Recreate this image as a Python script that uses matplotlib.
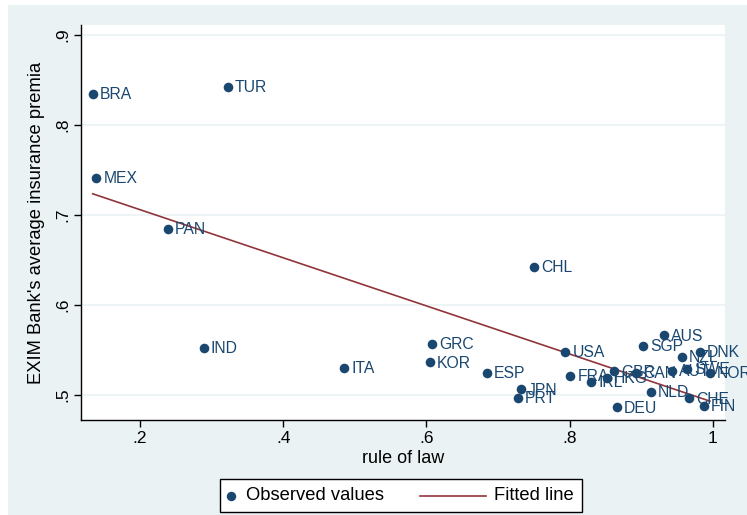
import numpy as np
import matplotlib
matplotlib.use("Agg")
import matplotlib.pyplot as plt
from matplotlib.patches import Rectangle
from matplotlib.lines import Line2D

plt.rcParams['font.family'] = ['Liberation Sans', 'DejaVu Sans']

countries = ["BRA", "TUR", "MEX", "PAN", "IND", "ITA", "GRC", "KOR", "ESP", "JPN",
             "PRT", "CHL", "USA", "FRA", "IRL", "HKG", "GBR", "CAN", "NLD", "DEU",
             "SGP", "AUS", "NZL", "DNK", "AUT", "SWE", "NOR", "CHE", "FIN"]
rule_of_law = [0.134, 0.323, 0.139, 0.239, 0.289, 0.485, 0.608, 0.605, 0.685, 0.732,
               0.728, 0.750, 0.794, 0.801, 0.830, 0.852, 0.862, 0.893, 0.914, 0.866,
               0.903, 0.932, 0.957, 0.982, 0.943, 0.964, 0.996, 0.967, 0.988]
premia = [0.834, 0.842, 0.741, 0.684, 0.552, 0.530, 0.557, 0.536, 0.524, 0.506,
          0.497, 0.642, 0.548, 0.521, 0.514, 0.519, 0.526, 0.524, 0.503, 0.486,
          0.554, 0.566, 0.542, 0.548, 0.527, 0.529, 0.524, 0.496, 0.488]

x_ticks = [0.2, 0.4, 0.6, 0.8, 1.0]
x_tick_labels = [".2", ".4", ".6", ".8", "1"]
y_ticks = [0.5, 0.6, 0.7, 0.8, 0.9]
y_tick_labels = [".5", ".6", ".7", ".8", ".9"]

navy = "#1a476f"
maroon = "#90353b"
panel = "#eaf2f3"

W, H = 747, 515
fig = plt.figure(figsize=(W / 100, H / 100), dpi=100)
fig.patch.set_facecolor("white")

# shaded graph region behind the plot area
bg = fig.add_axes([8 / W, 0, 1 - 8 / W, 1 - 5 / H], zorder=-10)
bg.set_facecolor(panel)
bg.set_xticks([])
bg.set_yticks([])
for s in bg.spines.values():
    s.set_visible(False)

ax = fig.add_axes([81 / W, (H - 420) / H, (725 - 81) / W, (420 - 25) / H])
ax.set_facecolor("white")

x = np.array(rule_of_law)
y = np.array(premia)
slope, intercept = np.polyfit(x, y, 1)
xf = np.array([x.min(), x.max()])

ax.scatter(x, y, s=48, color=navy, zorder=3, linewidths=0)
ax.plot(xf, intercept + slope * xf, color=maroon, lw=1.2, zorder=2)

for c, xi, yi in zip(countries, x, y):
    ax.annotate(c, (xi, yi), xytext=(5, -0.5), textcoords="offset points",
                va="center", ha="left", fontsize=11.3, color=navy, zorder=4,
                annotation_clip=False)

ax.set_xlim(0.1176, 1.017)
ax.set_ylim(0.472, 0.911)
ax.set_xticks(x_ticks)
ax.set_xticklabels(x_tick_labels, fontsize=12.5)
ax.set_yticks(y_ticks)
ax.set_yticklabels(y_tick_labels, fontsize=12.5, rotation=90, va="center")
ax.tick_params(direction="out", length=5, width=1, color="black", pad=3)
ax.grid(axis="y", color=panel, lw=1.2, zorder=0)
ax.set_axisbelow(True)
for side in ["top", "right"]:
    ax.spines[side].set_visible(False)
for side in ["left", "bottom"]:
    ax.spines[side].set_color("black")
    ax.spines[side].set_linewidth(1)

ax.set_xlabel("rule of law", fontsize=13, labelpad=3)
ax.set_ylabel("EXIM Bank's average insurance premia", fontsize=13.2, labelpad=7)

# legend box
def fx(px):
    return px / W

def fy(py):
    return 1 - py / H

fig.add_artist(Rectangle((fx(220), fy(512)), fx(582) - fx(220), fy(479) - fy(512),
                         transform=fig.transFigure, facecolor="white",
                         edgecolor="black", lw=1, zorder=5))
fig.add_artist(Line2D([fx(231)], [fy(496)], marker="o", markersize=6.8, color=navy,
                      markeredgewidth=0, linestyle="none",
                      transform=fig.transFigure, zorder=6))
fig.text(fx(246), fy(496), "Observed values", fontsize=13.2, va="center",
         ha="left", zorder=6)
fig.add_artist(Line2D([fx(420), fx(486)], [fy(496), fy(496)], color=maroon, lw=1.2,
                      transform=fig.transFigure, zorder=6))
fig.text(fx(494), fy(496), "Fitted line", fontsize=13.2, va="center",
         ha="left", zorder=6)

fig.savefig("out.png", dpi=100)
